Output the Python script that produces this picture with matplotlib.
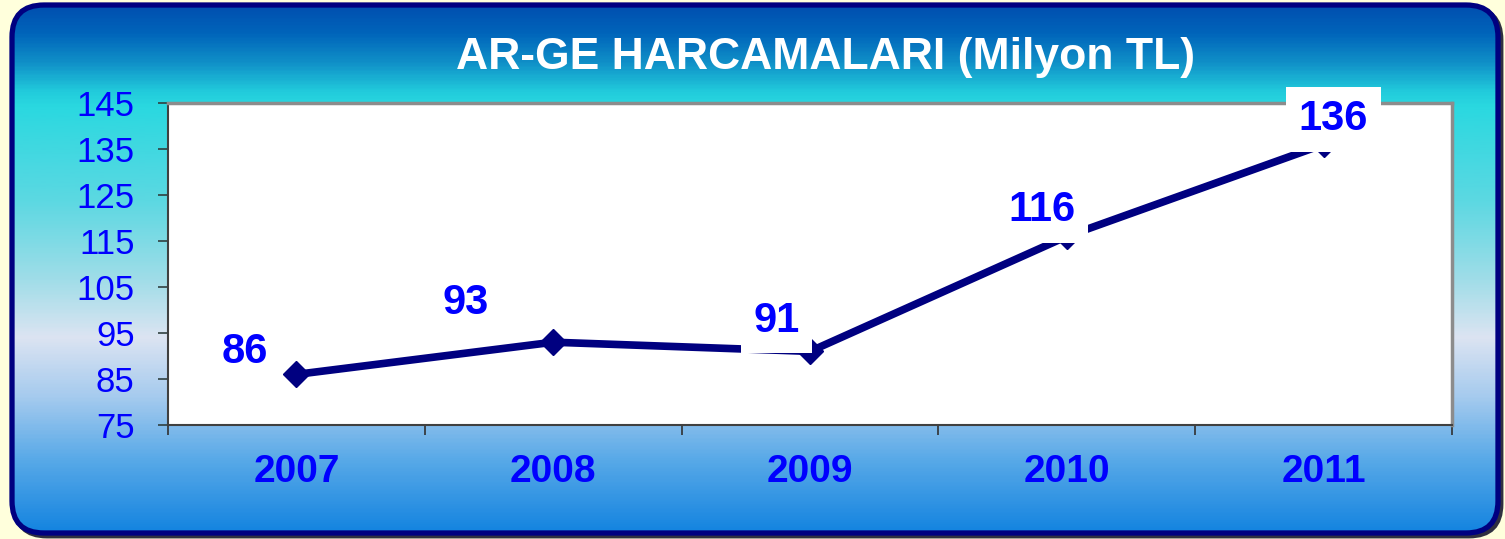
import matplotlib.pyplot as plt
import numpy as np
from matplotlib.colors import LinearSegmentedColormap
from matplotlib.patches import FancyBboxPatch

plt.rcParams['font.family'] = ['Liberation Sans', 'DejaVu Sans']

years = ['2007', '2008', '2009', '2010', '2011']
values = [86, 93, 91, 116, 136]
label_offsets = [(-37, 16), (-63, 28), (-24, 22), (-18, 19), (7, 18)]  # points
yticks = np.arange(75, 146, 10)

W, H = 1505, 539
fig = plt.figure(figsize=(W / 100, H / 100), dpi=100)
fig.patch.set_facecolor('#FFFFDC')

# background panel with vertical gradient
bg = fig.add_axes([0, 0, 1, 1])
bg.set_xlim(0, W)
bg.set_ylim(H, 0)
bg.axis('off')

stops = [(0.0, '#0050B0'), (0.05, '#0064BA'), (0.107, '#1090C8'), (0.163, '#22CCDC'),
         (0.19, '#2AD8E0'), (0.37, '#5CD8E2'), (0.52, '#A0DDE8'), (0.63, '#DCE4F2'),
         (0.746, '#A4CAEE'), (0.86, '#5AAAE8'), (1.0, '#1484E0')]
cmap = LinearSegmentedColormap.from_list('panel', stops)
x0, y0, x1, y1 = 12, 5, 1498, 533
grad = np.linspace(0, 1, 400).reshape(-1, 1)

shadow = FancyBboxPatch((x0 + 3, y0 + 3), x1 - x0, y1 - y0,
                        boxstyle='round,pad=0,rounding_size=32',
                        facecolor='#303040', edgecolor='#303040', lw=3.5)
bg.add_patch(shadow)
panel = FancyBboxPatch((x0, y0), x1 - x0, y1 - y0,
                       boxstyle='round,pad=0,rounding_size=32',
                       facecolor='none', edgecolor='#000080', lw=3.8, zorder=3)
bg.add_patch(panel)
im = bg.imshow(grad, cmap=cmap, aspect='auto', extent=[x0, x1, y1, y0], zorder=2)
im.set_clip_path(panel)

bg.text(826, 57, 'AR-GE HARCAMALARI (Milyon TL)', color='white', fontsize=32,
        fontweight='bold', ha='center', va='center', zorder=4)

# plot area
ax = fig.add_axes([168 / W, 1 - 425 / H, (1452 - 168) / W, (425 - 103) / H])
ax.set_facecolor('white')
x = np.arange(len(years))
ax.plot(x, values, color='#000080', lw=5.5, marker='D', markersize=13, zorder=3)

for xi, v, off in zip(x, values, label_offsets):
    ax.annotate(str(v), (xi, v), xytext=off, textcoords='offset points',
                ha='center', va='center', fontsize=30, fontweight='bold', color='#0000FF',
                bbox=dict(boxstyle='square,pad=0.3', facecolor='white', edgecolor='none'),
                annotation_clip=False, zorder=5).set_clip_on(False)

ax.set_xlim(-0.5, len(years) - 0.5)
ax.set_ylim(75, 145)
ax.set_yticks(yticks)
ax.set_yticklabels([str(t) for t in yticks], color='#0000FF', fontsize=25)
ax.set_xticks(np.arange(-0.5, len(years), 1.0))
ax.set_xticklabels([])
ax.set_xticks(x, minor=True)
ax.set_xticklabels(years, minor=True, color='#0000FF', fontsize=28, fontweight='bold')
ax.tick_params(axis='x', which='minor', length=0, pad=21)
ax.tick_params(axis='x', which='major', length=7, width=1.2, color='#303030', direction='out')
ax.tick_params(axis='y', length=7, width=1.2, color='#304040', direction='out', pad=17)

for side in ['top', 'right']:
    ax.spines[side].set_color('#8C8C8C')
    ax.spines[side].set_linewidth(2.5)
for side in ['left', 'bottom']:
    ax.spines[side].set_color('#404040')
    ax.spines[side].set_linewidth(1.5)

fig.savefig('out.png', dpi=100, facecolor=fig.get_facecolor())
